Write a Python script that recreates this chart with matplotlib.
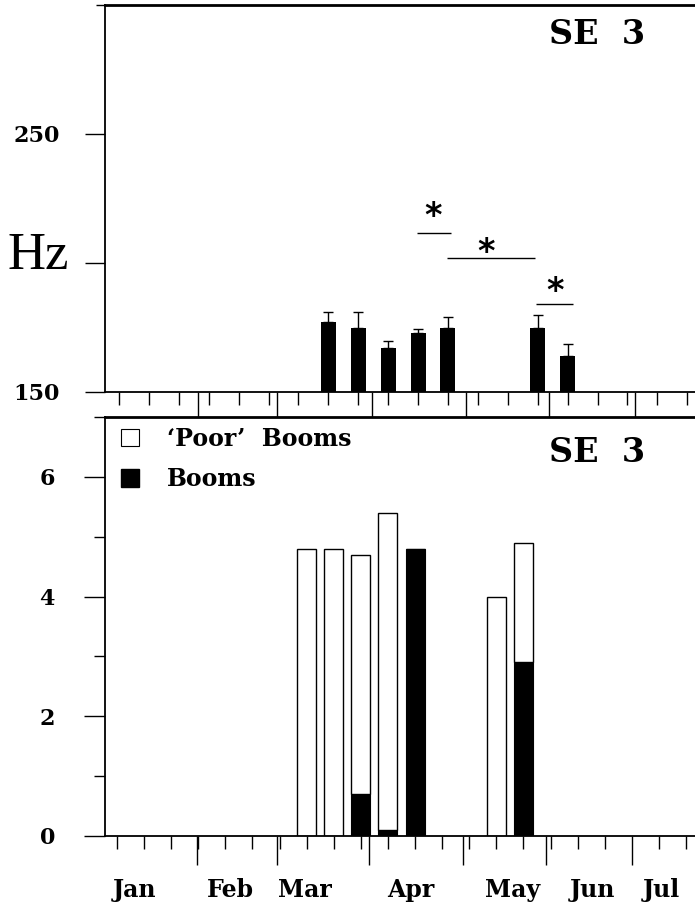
import numpy as np
import matplotlib
matplotlib.use('Agg')
import matplotlib.pyplot as plt
from matplotlib.patches import Patch

plt.rcParams['font.family'] = 'DejaVu Serif'
plt.rcParams['font.weight'] = 'bold'

###############################################################################
# Data
###############################################################################
#Week index of each sampled week (same weeks in both panels)
weeks = [7, 8, 9, 10, 11, 14, 15]

#Top panel: mean boom frequency (Hz) with upper error bar
freq = [177, 175, 167, 173, 175, 175, 164]
freqErr = [4.0, 6.0, 2.6, 1.4, 4.1, 5.0, 4.7]

#Bottom panel: booms and 'poor' booms (stacked)
booms = [0, 0, 0.7, 0.1, 4.8, 0, 2.9]
poorBooms = [4.8, 4.8, 4.0, 5.3, 0, 4.0, 2.0]

#Significance brackets (week from, week to, height in Hz) and their stars
sigStart = [9.97, 10.97, 13.95]
sigEnd = [11.1, 13.9, 15.18]
sigY = [211.5, 202.1, 184.2]
starX = [10.5, 12.27, 14.58]
starY = [218.0, 204.0, 189.0]

months = ['Jan', 'Feb', 'Mar', 'Apr', 'May', 'Jun', 'Jul']
monthPos = [0.66, 4.18, 6.94, 10.85, 14.6, 17.53, 20.1]
monthEdgesTop = [2.64, 5.28, 8.46, 11.6, 14.38, 17.26]
monthEdgesBot = [2.95, 5.9, 9.3, 12.77, 15.83, 19.0]

###############################################################################
# Figure
###############################################################################
W, H = 695, 908
fig = plt.figure(figsize=(W/100, H/100), dpi=100)

axTop = fig.add_axes([105/W, 1-392/H, 590/W, 387/H])
axBot = fig.add_axes([105/W, 1-836/H, 590/W, 419/H])

for ax in [axTop, axBot]:
    ax.spines['right'].set_visible(False)
    ax.spines['left'].set_linewidth(1.3)
    ax.spines['bottom'].set_linewidth(1.3)
    ax.spines['top'].set_linewidth(2)
    ax.tick_params(axis='both', which='both', width=1, direction='out',
                   labelsize=16, top=False, right=False)

#Top panel: frequency
axTop.bar(weeks, [f-150 for f in freq], bottom=150, width=0.5,
          color='black', zorder=2)
axTop.errorbar(weeks, freq, yerr=[np.zeros(len(freqErr)), freqErr],
               fmt='none', ecolor='black', elinewidth=1, capsize=3.5,
               capthick=1, zorder=1)
axTop.hlines(sigY, sigStart, sigEnd, color='black', lw=1)
for x, y in zip(starX, starY):
    axTop.text(x, y, '*', ha='center', va='center', fontsize=24,
               family='DejaVu Sans', fontweight='bold')

axTop.set_xlim(-0.468, 19.26)
axTop.set_ylim(150, 300)
axTop.set_xticks(monthEdgesTop)
axTop.set_xticks(range(20), minor=True)
axTop.set_xticklabels([])
axTop.set_yticks([150, 200, 250])
axTop.set_yticklabels(['150', '', '250'])
axTop.set_yticks([300], minor=True)
axTop.tick_params(axis='x', which='major', length=18.7)
axTop.tick_params(axis='x', which='minor', length=9.4)
axTop.tick_params(axis='y', which='major', length=14.4, pad=18)
axTop.tick_params(axis='y', which='minor', length=6.5)

#Bottom panel: number of booms
axBot.bar(weeks, booms, width=0.7, color='black', edgecolor='black', lw=0.8)
axBot.bar(weeks, poorBooms, bottom=booms, width=0.7, color='white',
          edgecolor='black', lw=1)

axBot.set_xlim(-0.443, 21.33)
axBot.set_ylim(0, 7)
axBot.set_xticks(monthEdgesBot)
axBot.set_xticks(range(22), minor=True)
axBot.set_xticklabels([])
axBot.set_yticks([0, 2, 4, 6])
axBot.set_yticks([1, 3, 5, 7], minor=True)
axBot.tick_params(axis='x', which='major', length=21)
axBot.tick_params(axis='x', which='minor', length=9.4)
axBot.tick_params(axis='y', which='major', length=15, pad=21)
axBot.tick_params(axis='y', which='minor', length=8)

for m, pos in zip(months, monthPos):
    axBot.text(pos, -0.129, m, transform=axBot.get_xaxis_transform(),
               ha='center', va='center', fontsize=17, fontweight='bold')

handles = [Patch(facecolor='white', edgecolor='black', lw=0.8),
           Patch(facecolor='black', edgecolor='black')]
axBot.legend(handles, ['\u2018Poor\u2019  Booms', 'Booms'], loc='upper left',
             bbox_to_anchor=(0.027, 0.977), frameon=False, fontsize=17,
             handlelength=0.75, handleheight=0.75, handletextpad=1.2,
             labelspacing=0.7, borderpad=0, borderaxespad=0)

fig.text(38/W, 1-256/H, 'Hz', ha='center', va='center',
         family='Liberation Serif', fontweight='normal', fontsize=38)
fig.text(597/W, 1-35/H, 'SE  3', ha='center', va='center', fontsize=24,
         fontweight='bold')
fig.text(597/W, 1-452/H, 'SE  3', ha='center', va='center', fontsize=24,
         fontweight='bold')

fig.savefig('out.png', dpi=100)
